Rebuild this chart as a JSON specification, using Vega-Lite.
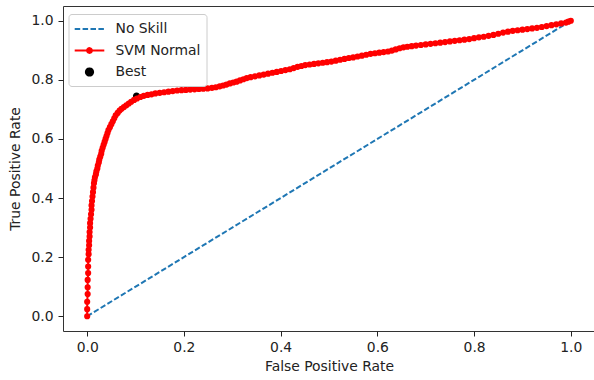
{
  "$schema": "https://vega.github.io/schema/vega-lite/v6.json",
  "width": 532,
  "height": 325,
  "autosize": {"type": "none"},
  "padding": {"left": 63, "top": 6, "right": 0, "bottom": 49},
  "background": "white",
  "config": {
    "font": "DejaVu Sans",
    "view": {"stroke": "#333", "strokeWidth": 1},
    "axis": {"grid": false, "domain": false, "tickColor": "#222", "tickSize": 5, "labelColor": "#222", "titleColor": "#222", "labelFontSize": 13.9, "titleFontSize": 13.9, "titleFontWeight": "normal", "labelFont": "DejaVu Sans", "titleFont": "DejaVu Sans"}
  },
  "datasets": {
    "svm": [
      {"fpr": 0, "tpr": 0}, {"fpr": 0, "tpr": 0.024}, {"fpr": 0, "tpr": 0.049}, {"fpr": 0.001, "tpr": 0.075}, {"fpr": 0.001, "tpr": 0.098},
      {"fpr": 0.001, "tpr": 0.123}, {"fpr": 0.002, "tpr": 0.146}, {"fpr": 0.002, "tpr": 0.168}, {"fpr": 0.002, "tpr": 0.191}, {"fpr": 0.003, "tpr": 0.21},
      {"fpr": 0.003, "tpr": 0.225}, {"fpr": 0.004, "tpr": 0.24}, {"fpr": 0.004, "tpr": 0.255}, {"fpr": 0.005, "tpr": 0.27}, {"fpr": 0.005, "tpr": 0.285},
      {"fpr": 0.006, "tpr": 0.3}, {"fpr": 0.006, "tpr": 0.315}, {"fpr": 0.007, "tpr": 0.33}, {"fpr": 0.008, "tpr": 0.345}, {"fpr": 0.009, "tpr": 0.36},
      {"fpr": 0.009, "tpr": 0.375}, {"fpr": 0.01, "tpr": 0.39}, {"fpr": 0.011, "tpr": 0.405}, {"fpr": 0.012, "tpr": 0.42}, {"fpr": 0.013, "tpr": 0.435},
      {"fpr": 0.014, "tpr": 0.45}, {"fpr": 0.015, "tpr": 0.46}, {"fpr": 0.016, "tpr": 0.47}, {"fpr": 0.018, "tpr": 0.48}, {"fpr": 0.019, "tpr": 0.49},
      {"fpr": 0.021, "tpr": 0.5}, {"fpr": 0.022, "tpr": 0.51}, {"fpr": 0.024, "tpr": 0.52}, {"fpr": 0.025, "tpr": 0.53}, {"fpr": 0.027, "tpr": 0.54},
      {"fpr": 0.029, "tpr": 0.55}, {"fpr": 0.03, "tpr": 0.56}, {"fpr": 0.032, "tpr": 0.57}, {"fpr": 0.034, "tpr": 0.58}, {"fpr": 0.036, "tpr": 0.59},
      {"fpr": 0.038, "tpr": 0.6}, {"fpr": 0.04, "tpr": 0.61}, {"fpr": 0.042, "tpr": 0.62}, {"fpr": 0.044, "tpr": 0.63}, {"fpr": 0.047, "tpr": 0.64},
      {"fpr": 0.05, "tpr": 0.65}, {"fpr": 0.053, "tpr": 0.66}, {"fpr": 0.056, "tpr": 0.67}, {"fpr": 0.059, "tpr": 0.68}, {"fpr": 0.063, "tpr": 0.688},
      {"fpr": 0.067, "tpr": 0.696}, {"fpr": 0.071, "tpr": 0.702}, {"fpr": 0.076, "tpr": 0.708}, {"fpr": 0.081, "tpr": 0.714}, {"fpr": 0.086, "tpr": 0.72},
      {"fpr": 0.091, "tpr": 0.726}, {"fpr": 0.097, "tpr": 0.732}, {"fpr": 0.103, "tpr": 0.737}, {"fpr": 0.11, "tpr": 0.742}, {"fpr": 0.117, "tpr": 0.746},
      {"fpr": 0.125, "tpr": 0.749}, {"fpr": 0.133, "tpr": 0.751}, {"fpr": 0.141, "tpr": 0.754}, {"fpr": 0.15, "tpr": 0.756}, {"fpr": 0.159, "tpr": 0.758},
      {"fpr": 0.168, "tpr": 0.76}, {"fpr": 0.177, "tpr": 0.762}, {"fpr": 0.186, "tpr": 0.764}, {"fpr": 0.195, "tpr": 0.765}, {"fpr": 0.204, "tpr": 0.766},
      {"fpr": 0.213, "tpr": 0.767}, {"fpr": 0.222, "tpr": 0.768}, {"fpr": 0.231, "tpr": 0.769}, {"fpr": 0.24, "tpr": 0.77}, {"fpr": 0.249, "tpr": 0.771},
      {"fpr": 0.258, "tpr": 0.773}, {"fpr": 0.266, "tpr": 0.775}, {"fpr": 0.274, "tpr": 0.778}, {"fpr": 0.281, "tpr": 0.781}, {"fpr": 0.288, "tpr": 0.784},
      {"fpr": 0.295, "tpr": 0.788}, {"fpr": 0.302, "tpr": 0.791}, {"fpr": 0.309, "tpr": 0.794}, {"fpr": 0.316, "tpr": 0.798}, {"fpr": 0.323, "tpr": 0.802},
      {"fpr": 0.33, "tpr": 0.806}, {"fpr": 0.338, "tpr": 0.809}, {"fpr": 0.347, "tpr": 0.812}, {"fpr": 0.356, "tpr": 0.815}, {"fpr": 0.365, "tpr": 0.818},
      {"fpr": 0.374, "tpr": 0.821}, {"fpr": 0.383, "tpr": 0.824}, {"fpr": 0.392, "tpr": 0.827}, {"fpr": 0.401, "tpr": 0.83}, {"fpr": 0.41, "tpr": 0.833},
      {"fpr": 0.419, "tpr": 0.836}, {"fpr": 0.427, "tpr": 0.84}, {"fpr": 0.435, "tpr": 0.844}, {"fpr": 0.443, "tpr": 0.847}, {"fpr": 0.451, "tpr": 0.85},
      {"fpr": 0.46, "tpr": 0.852}, {"fpr": 0.469, "tpr": 0.854}, {"fpr": 0.478, "tpr": 0.856}, {"fpr": 0.487, "tpr": 0.858}, {"fpr": 0.496, "tpr": 0.86},
      {"fpr": 0.505, "tpr": 0.862}, {"fpr": 0.514, "tpr": 0.865}, {"fpr": 0.523, "tpr": 0.868}, {"fpr": 0.532, "tpr": 0.871}, {"fpr": 0.541, "tpr": 0.874},
      {"fpr": 0.55, "tpr": 0.876}, {"fpr": 0.559, "tpr": 0.879}, {"fpr": 0.568, "tpr": 0.882}, {"fpr": 0.577, "tpr": 0.885}, {"fpr": 0.586, "tpr": 0.888},
      {"fpr": 0.595, "tpr": 0.89}, {"fpr": 0.604, "tpr": 0.892}, {"fpr": 0.613, "tpr": 0.894}, {"fpr": 0.622, "tpr": 0.896}, {"fpr": 0.63, "tpr": 0.899},
      {"fpr": 0.638, "tpr": 0.903}, {"fpr": 0.646, "tpr": 0.907}, {"fpr": 0.654, "tpr": 0.91}, {"fpr": 0.662, "tpr": 0.912}, {"fpr": 0.671, "tpr": 0.914},
      {"fpr": 0.68, "tpr": 0.916}, {"fpr": 0.69, "tpr": 0.918}, {"fpr": 0.7, "tpr": 0.92}, {"fpr": 0.71, "tpr": 0.922}, {"fpr": 0.72, "tpr": 0.924},
      {"fpr": 0.73, "tpr": 0.926}, {"fpr": 0.74, "tpr": 0.928}, {"fpr": 0.75, "tpr": 0.93}, {"fpr": 0.76, "tpr": 0.932}, {"fpr": 0.77, "tpr": 0.934},
      {"fpr": 0.78, "tpr": 0.936}, {"fpr": 0.79, "tpr": 0.938}, {"fpr": 0.8, "tpr": 0.941}, {"fpr": 0.81, "tpr": 0.944}, {"fpr": 0.82, "tpr": 0.946},
      {"fpr": 0.83, "tpr": 0.949}, {"fpr": 0.84, "tpr": 0.952}, {"fpr": 0.85, "tpr": 0.956}, {"fpr": 0.86, "tpr": 0.96}, {"fpr": 0.87, "tpr": 0.963},
      {"fpr": 0.88, "tpr": 0.966}, {"fpr": 0.89, "tpr": 0.968}, {"fpr": 0.9, "tpr": 0.97}, {"fpr": 0.91, "tpr": 0.972}, {"fpr": 0.92, "tpr": 0.974},
      {"fpr": 0.93, "tpr": 0.976}, {"fpr": 0.94, "tpr": 0.979}, {"fpr": 0.95, "tpr": 0.982}, {"fpr": 0.96, "tpr": 0.985}, {"fpr": 0.97, "tpr": 0.988},
      {"fpr": 0.98, "tpr": 0.991}, {"fpr": 0.99, "tpr": 0.994}, {"fpr": 0.995, "tpr": 0.997}, {"fpr": 1, "tpr": 1}
    ],
    "noskill": [{"fpr": 0, "tpr": 0}, {"fpr": 1, "tpr": 1}],
    "best": [{"fpr": 0.102, "tpr": 0.745}]
  },
  "resolve": {"legend": {"color": "shared", "shape": "shared", "strokeDash": "shared"}},
  "layer": [
    {
      "data": {"name": "best"},
      "transform": [{"calculate": "'Best'", "as": "series"}],
      "mark": {"type": "point", "filled": true, "size": 256, "opacity": 1, "strokeWidth": 0},
      "encoding": {
        "x": {
          "field": "fpr", "type": "quantitative",
          "scale": {"domain": [-0.05, 1.05], "nice": false, "zero": false},
          "axis": {"values": [0, 0.2, 0.4, 0.6, 0.8, 1.0], "format": ".1f", "title": "False Positive Rate", "labelPadding": 4, "titlePadding": 6}
        },
        "y": {
          "field": "tpr", "type": "quantitative",
          "scale": {"domain": [-0.05, 1.05], "nice": false, "zero": false},
          "axis": {"values": [0, 0.2, 0.4, 0.6, 0.8, 1.0], "format": ".1f", "title": "True Positive Rate", "labelPadding": 5, "titlePadding": 8}
        },
        "color": {
          "field": "series", "type": "nominal",
          "scale": {"domain": ["No Skill", "SVM Normal", "Best"], "range": ["#1f77b4", "#ff0000", "#000000"]},
          "legend": {
            "title": null,
            "orient": "none",
            "legendX": 5.5,
            "legendY": 8,
            "padding": 6,
            "fillColor": "rgba(255,255,255,0.8)",
            "strokeColor": "#cccccc",
            "cornerRadius": 3,
            "labelFontSize": 13.9,
            "labelColor": "#222",
            "labelFont": "DejaVu Sans",
            "symbolSize": 256,
            "symbolStrokeWidth": 2,
            "symbolOffset": 6,
            "labelOffset": 17,
            "rowPadding": 5.5
          }
        },
        "shape": {
          "field": "series", "type": "nominal",
          "scale": {
            "domain": ["No Skill", "SVM Normal", "Best"],
            "range": [
              "M-1.85,0L1.85,0",
              "M-1.85,0L1.85,0M-0.3,0A0.3,0.3 0 1,1 0.3,0A0.3,0.3 0 1,1 -0.3,0",
              "M-0.45,0A0.45,0.45 0 1,1 0.45,0A0.45,0.45 0 1,1 -0.45,0"
            ]
          },
          "legend": null
        }
      }
    },
    {
      "data": {"name": "noskill"},
      "transform": [{"calculate": "'No Skill'", "as": "series"}],
      "mark": {"type": "line", "strokeWidth": 2},
      "encoding": {
        "x": {"field": "fpr", "type": "quantitative"},
        "y": {"field": "tpr", "type": "quantitative"},
        "color": {"field": "series", "type": "nominal"},
        "strokeDash": {
          "field": "series", "type": "nominal",
          "scale": {"domain": ["No Skill", "SVM Normal", "Best"], "range": [[5.5, 2.4], [1, 0], [1, 0]]},
          "legend": null
        }
      }
    },
    {
      "data": {"name": "svm"},
      "transform": [{"calculate": "'SVM Normal'", "as": "series"}],
      "mark": {"type": "line", "strokeWidth": 2, "point": {"filled": true, "size": 38, "opacity": 1}},
      "encoding": {
        "x": {"field": "fpr", "type": "quantitative"},
        "y": {"field": "tpr", "type": "quantitative"},
        "color": {"field": "series", "type": "nominal"}
      }
    }
  ]
}
